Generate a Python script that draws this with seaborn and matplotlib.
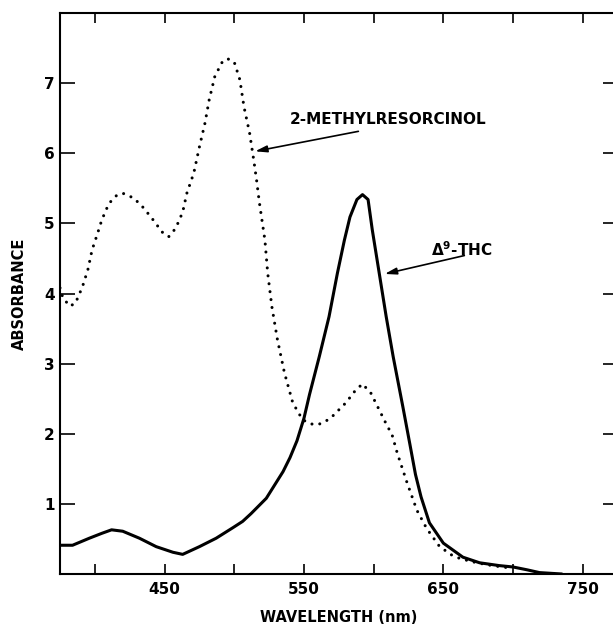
import matplotlib
matplotlib.use('Agg')
import matplotlib.pyplot as plt
import seaborn as sns

# 2-methylresorcinol (dotted)
mr_wavelength = [375, 377, 382, 386, 391, 395, 398, 402, 405, 410, 415, 420, 428, 435, 443, 448,
                 453, 458, 463, 466, 471, 475, 479, 482, 486, 491, 495, 500, 504, 507, 511, 514,
                 516, 518, 522, 524, 527, 531, 536, 542, 549, 555, 560, 565, 570, 580, 587, 592,
                 598, 604, 610, 613, 617, 624, 631, 638, 647, 655, 662, 674, 685, 700]
mr_absorbance = [4.08, 3.94, 3.82, 3.86, 4.09, 4.34, 4.62, 4.86, 5.05, 5.28, 5.39, 5.43, 5.36, 5.22, 5.02, 4.88,
                 4.81, 4.93, 5.16, 5.43, 5.72, 6.09, 6.43, 6.76, 7.09, 7.29, 7.35, 7.30, 7.05, 6.66, 6.29, 5.90,
                 5.62, 5.30, 4.76, 4.29, 3.81, 3.34, 2.87, 2.44, 2.20, 2.14, 2.13, 2.17, 2.24, 2.44, 2.62, 2.71,
                 2.58, 2.34, 2.10, 2.00, 1.72, 1.30, 0.91, 0.65, 0.40, 0.28, 0.22, 0.16, 0.12, 0.08]

# delta-9-THC (solid)
thc_wavelength = [375, 384, 396, 405, 412, 420, 432, 444, 456, 463, 475, 487, 499, 506, 512, 523,
                  535, 540, 545, 550, 554, 561, 568, 574, 579, 583, 588, 592, 596, 599, 604, 609, 614,
                  621, 626, 630, 634, 640, 650, 664, 676, 690, 700, 710, 719, 735]
thc_absorbance = [0.41, 0.41, 0.51, 0.58, 0.63, 0.61, 0.51, 0.39, 0.31, 0.28, 0.39, 0.51, 0.66, 0.75, 0.86, 1.08,
                  1.46, 1.66, 1.90, 2.22, 2.56, 3.10, 3.67, 4.29, 4.76, 5.09, 5.34, 5.41, 5.34, 4.91, 4.29, 3.67, 3.10,
                  2.38, 1.85, 1.42, 1.10, 0.73, 0.44, 0.24, 0.16, 0.12, 0.10, 0.06, 0.02, 0.0]

x_ticks = [400, 450, 500, 550, 600, 650, 700, 750]
x_tick_labels = ['', '450', '', '550', '', '650', '', '750']
y_ticks = [1, 2, 3, 4, 5, 6, 7]

sns.set_style('ticks')
plt.rcParams['font.family'] = ['DejaVu Sans']
plt.rcParams['text.color'] = 'black'
plt.rcParams['axes.labelcolor'] = 'black'
plt.rcParams['xtick.color'] = 'black'
plt.rcParams['ytick.color'] = 'black'

fig = plt.figure(figsize=(6.13, 6.29), dpi=100)
ax = fig.add_axes([60 / 613, 55 / 629, 557.6 / 613, 561 / 629])

sns.lineplot(x=mr_wavelength, y=mr_absorbance, ax=ax, color='black', linewidth=2.2,
             linestyle=(0, (0.01, 2.6)), dash_capstyle='round', sort=False)
sns.lineplot(x=thc_wavelength, y=thc_absorbance, ax=ax, color='black', linewidth=2.2, sort=False)

ax.set_xlim(375, 775)
ax.set_ylim(0, 8)
ax.set_xticks(x_ticks)
ax.set_xticklabels(x_tick_labels)
ax.set_yticks(y_ticks)
ax.set_yticklabels([str(v) for v in y_ticks])

for s in ax.spines.values():
    s.set_linewidth(1.5)
    s.set_color('black')
    s.set_visible(True)

ax.tick_params(axis='x', direction='in', length=7, width=1.2, top=True, labelsize=11, pad=6)
ax.tick_params(axis='y', direction='in', length=11, width=1.2, right=True, labelsize=11, pad=4)
for lab in ax.get_xticklabels() + ax.get_yticklabels():
    lab.set_fontweight('bold')

ax.set_xlabel('WAVELENGTH (nm)', fontsize=10.5, fontweight='bold', labelpad=9)
ax.set_ylabel('ABSORBANCE', fontsize=10.5, fontweight='bold', labelpad=12)

# labels with arrows
ax.text(540, 6.48, '2-METHYLRESORCINOL', fontsize=11, fontweight='bold', ha='left', va='center')
ax.annotate('', xy=(513, 6.02), xytext=(591, 6.32),
            arrowprops=dict(arrowstyle='-|>,head_length=0.7,head_width=0.2', color='black', lw=1.2))
ax.text(641, 4.62, r'$\mathbf{\Delta^9}$-THC', fontsize=11, fontweight='bold', ha='left', va='center')
ax.annotate('', xy=(606, 4.27), xytext=(667, 4.55),
            arrowprops=dict(arrowstyle='-|>,head_length=0.7,head_width=0.2', color='black', lw=1.2))

fig.savefig('out.png', dpi=100)
